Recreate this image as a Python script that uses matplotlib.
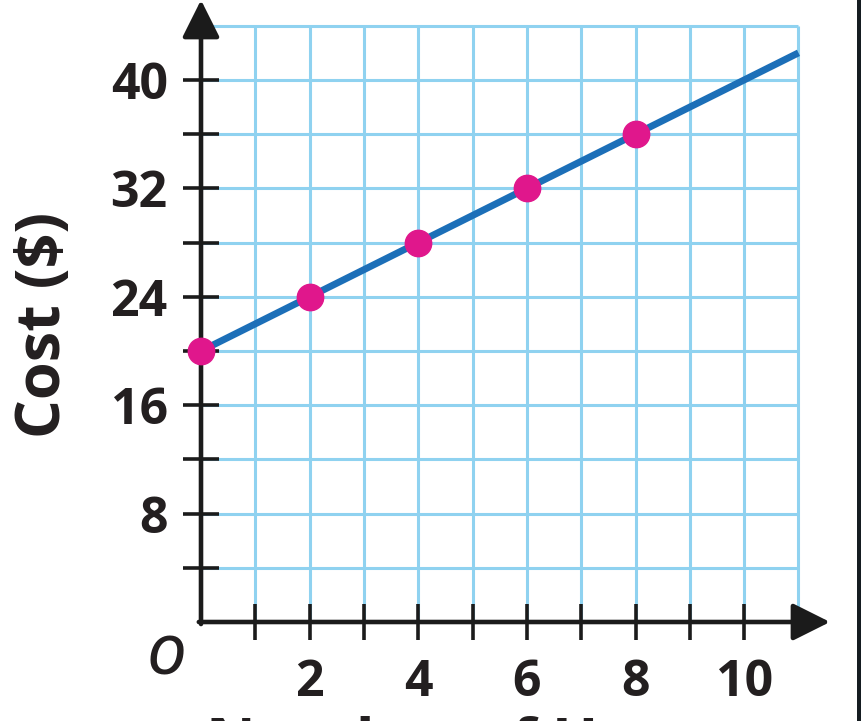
import matplotlib
matplotlib.use("Agg")
import matplotlib.pyplot as plt
from matplotlib.patches import Rectangle

# ---- data ----
units = [0, 2, 4, 6, 8]
cost = [20, 24, 28, 32, 36]
line_x = [0, 11]
line_y = [20, 42]
x_ticks = list(range(1, 11))
x_tick_labels = ["", "2", "", "4", "", "6", "", "8", "", "10"]
y_ticks = list(range(4, 44, 4))
y_tick_labels = ["", "8", "", "16", "", "24", "", "32", "", "40"]
y_label = "Cost ($)"
x_label = "Number of Hours"
origin_label = "O"

W, H = 862, 721
fig = plt.figure(figsize=(W / 100, H / 100), dpi=100)
fig.patch.set_facecolor("white")

x0_px, x1_px = 201, 830
y0_px, y1_px = 622, 0
xmax = 11.58
ymax = 45.9
ax = fig.add_axes([x0_px / W, (H - y0_px) / H, (x1_px - x0_px) / W, (y0_px - y1_px) / H])
ax.set_xlim(0, xmax)
ax.set_ylim(0, ymax)
ax.set_facecolor("none")
for s in ax.spines.values():
    s.set_visible(False)

font = "Open Sans"
grid_c = "#8fd2f0"
# grid
ax.vlines(range(1, 12), 0, 44, colors=grid_c, lw=2.2, zorder=1)
ax.hlines(range(4, 48, 4), 0, 11, colors=grid_c, lw=2.2, zorder=1)

# axes with arrows
ak = dict(arrowstyle="-|>,head_length=2.3,head_width=1.15", lw=3.3, color="#1b1b1b",
          shrinkA=0, shrinkB=0, mutation_scale=10)
ax.annotate("", xy=(xmax, 0), xytext=(-0.04, 0), arrowprops=ak, annotation_clip=False, zorder=5)
ax.annotate("", xy=(0, ymax), xytext=(0, -0.15), arrowprops=ak, annotation_clip=False, zorder=5)

# ticks
ax.set_xticks(x_ticks)
ax.set_xticklabels(x_tick_labels)
ax.set_yticks(y_ticks)
ax.set_yticklabels(y_tick_labels)
ax.tick_params(axis="both", direction="inout", length=26, width=2.6, color="#1b1b1b")
ax.tick_params(axis="x", pad=13)
ax.tick_params(axis="y", pad=11)
for lab in ax.get_xticklabels() + ax.get_yticklabels():
    lab.set_fontfamily(font)
    lab.set_fontweight("bold")
    lab.set_fontsize(36)
    lab.set_color("#231f20")

# data line and points
ax.plot(line_x, line_y, color="#1c6fb8", lw=5, solid_capstyle="butt", zorder=6, clip_on=False)
ax.plot(units, cost, "o", color="#e0178c", ms=19, zorder=7, clip_on=False)

# origin label
ax.text(-0.66, -2.9, origin_label, fontsize=38, fontstyle="italic", fontweight="semibold",
        family=font, ha="center", va="center", color="#231f20")

# axis labels
fig.text(45 / W, (H - 325) / H, y_label, rotation=90, fontsize=44, fontweight="bold",
         family=font, ha="center", va="center", color="#231f20")
fig.text(470 / W, (H - 761) / H, x_label, fontsize=44, fontweight="bold",
         family=font, ha="center", va="baseline", color="#231f20")

# dark strip at right edge
fig.patches.append(Rectangle((857 / W, 0), 5 / W, 1, transform=fig.transFigure,
                             facecolor="#151c21", edgecolor="none", zorder=10))

fig.savefig("out.png", dpi=100)
